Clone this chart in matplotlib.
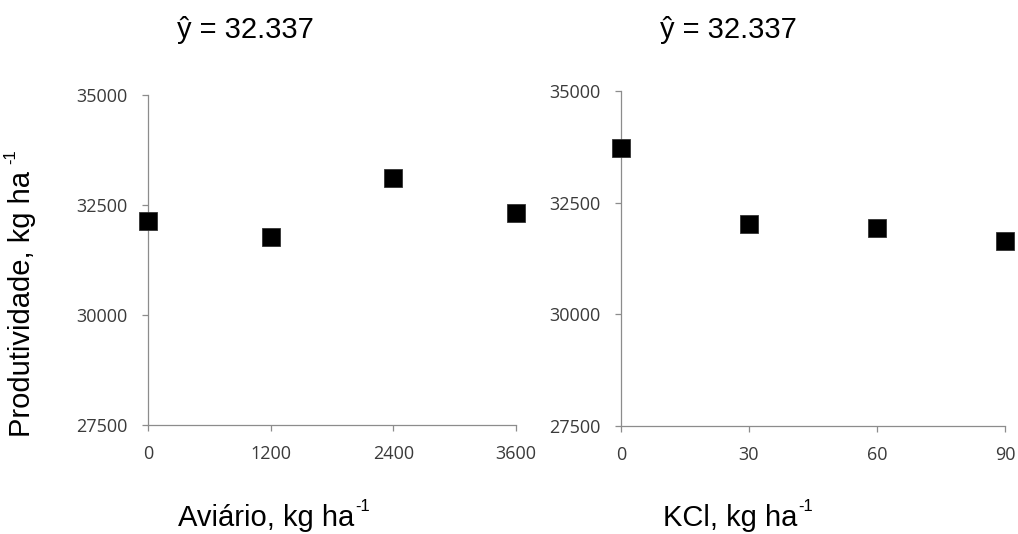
import matplotlib
matplotlib.use('Agg')
import matplotlib.pyplot as plt

# data
aviario_dose = [0, 1200, 2400, 3600]
aviario_prod = [32130, 31780, 33105, 32310]
kcl_dose = [0, 30, 60, 90]
kcl_prod = [33715, 32015, 31940, 31650]

yticks = [27500, 30000, 32500, 35000]
eq_text = 'ŷ = 32.337'

tick_font = 'Open Sans'
lab_font = 'Liberation Sans'
spine_col = '#8c8c8c'

fig = plt.figure(figsize=(10.18, 5.34), dpi=100)
ax1 = fig.add_axes([0.1454, 0.2041, 0.3615, 0.6180])
ax2 = fig.add_axes([0.6100, 0.2022, 0.3772, 0.6274])

panels = [(ax1, aviario_dose, aviario_prod, [0, 3600]),
          (ax2, kcl_dose, kcl_prod, [0, 90])]
for ax, xx, yy, xl in panels:
    ax.plot(xx, yy, 's', ms=13, mfc='black', mec='#333333', mew=0.6,
            clip_on=False, zorder=5)
    ax.set_xlim(*xl)
    ax.set_ylim(27500, 35000)
    ax.set_xticks(xx)
    ax.set_yticks(yticks)
    for s in ['top', 'right']:
        ax.spines[s].set_visible(False)
    for s in ['left', 'bottom']:
        ax.spines[s].set_color(spine_col)
        ax.spines[s].set_linewidth(0.9)
    ax.tick_params(direction='out', length=4.5, width=0.9, color=spine_col,
                   labelsize=13, labelcolor='#3a3a3a', pad=10)
    for lb in ax.get_xticklabels() + ax.get_yticklabels():
        lb.set_fontfamily(tick_font)

# equations above each panel
fig.text(0.1739, 0.944, eq_text, fontsize=21, family=lab_font, va='center')
fig.text(0.6483, 0.944, eq_text, fontsize=21, family=lab_font, va='center')

# axis titles, superscript placed after the measured end of the base text
r = fig.canvas.get_renderer()
inv = fig.transFigure.inverted()

def label_with_sup(x, y, base, rot=0):
    t = fig.text(x, y, base, fontsize=21, family=lab_font, rotation=rot,
                 ha='left' if rot == 0 else 'center',
                 va='center' if rot == 0 else 'bottom')
    bb = t.get_window_extent(renderer=r)
    if rot == 0:
        sx, sy = inv.transform((bb.x1 + 1, bb.y1 + 5))
        fig.text(sx, sy, '-1', fontsize=12, family=lab_font,
                 ha='left', va='top')
    else:
        sx, sy = inv.transform((bb.x0 - 5, bb.y1 + 7))
        fig.text(sx, sy, '-1', fontsize=12, family=lab_font, rotation=90,
                 ha='left', va='bottom')

label_with_sup(0.1749, 0.030, 'Aviário, kg ha')
label_with_sup(0.6513, 0.030, 'KCl, kg ha')
label_with_sup(0.022, 1 - 437 / 534, 'Produtividade, kg ha', rot=90)

fig.savefig('out.png', dpi=100)
